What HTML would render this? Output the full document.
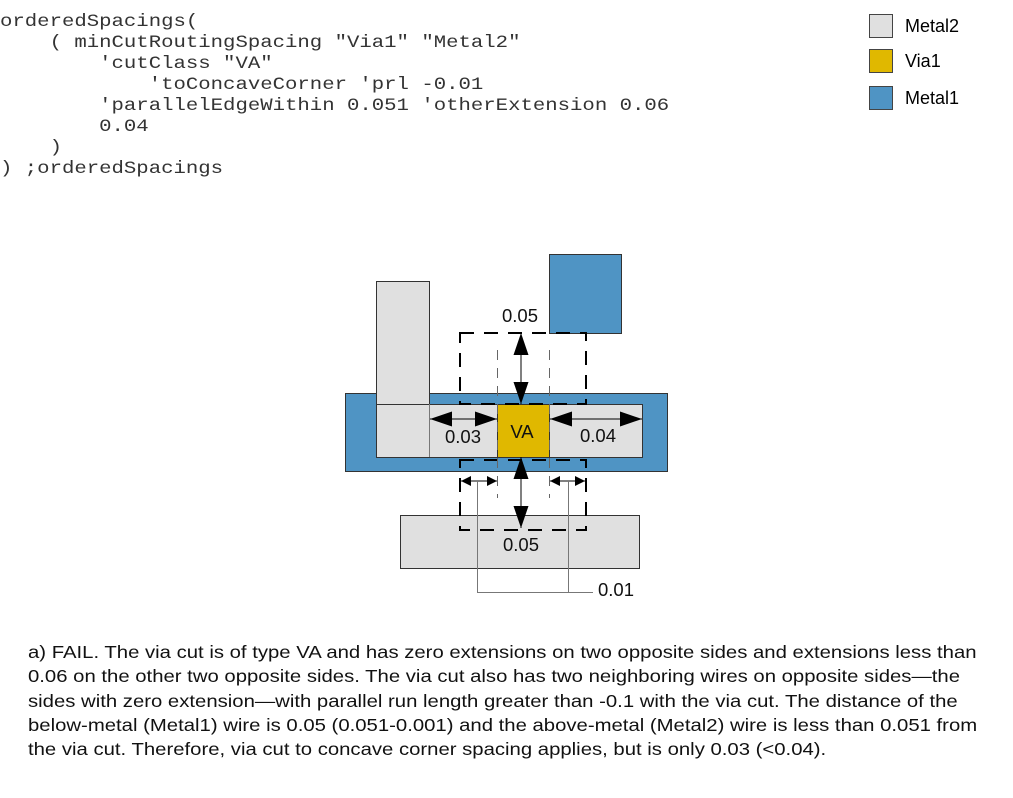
<!DOCTYPE html>
<html><head><style>
body{margin:0;width:1013px;height:798px;background:#fff;position:relative;overflow:hidden;font-family:"Liberation Sans",Arial,sans-serif;}
pre{position:absolute;left:0;top:12px;margin:0;font-family:"Liberation Mono",monospace;font-size:17.5px;line-height:21px;color:#333;transform:scaleX(1.18);transform-origin:0 0;}
.cap{position:absolute;left:28px;top:640px;font-size:17.3px;line-height:24.3px;color:#111;white-space:nowrap;transform:scaleX(1.175);transform-origin:0 0;}
</style></head><body>
<pre>orderedSpacings(
    ( minCutRoutingSpacing "Via1" "Metal2"
        'cutClass "VA"
            'toConcaveCorner 'prl -0.01
        'parallelEdgeWithin 0.051 'otherExtension 0.06
        0.04
    )
) ;orderedSpacings</pre>
<svg width="1013" height="798" style="position:absolute;left:0;top:0" font-family="Liberation Sans, Arial, sans-serif">
<defs>
<marker id="a" viewBox="0 0 10 10" refX="10" refY="5" markerWidth="10" markerHeight="10" orient="auto-start-reverse" markerUnits="userSpaceOnUse"><path d="M0,0L10,5L0,10z" fill="#000"/></marker>
<marker id="b" viewBox="0 0 10 10" refX="10" refY="5" markerWidth="22" markerHeight="15" orient="auto-start-reverse" markerUnits="userSpaceOnUse" preserveAspectRatio="none"><path d="M0,0L10,5L0,10z" fill="#000"/></marker>
</defs>
<rect x="869.5" y="14.5" width="23" height="23" fill="#e0e0e0" stroke="#444"/>
<rect x="869.5" y="49.5" width="23" height="23" fill="#e0b800" stroke="#444"/>
<rect x="869.5" y="86.5" width="23" height="23" fill="#4f94c4" stroke="#444"/>
<text x="905" y="32" font-size="18">Metal2</text>
<text x="905" y="67" font-size="18">Via1</text>
<text x="905" y="104" font-size="18">Metal1</text>
<rect x="549.5" y="254.5" width="72" height="79" fill="#4f94c4" stroke="#333"/>
<rect x="345.5" y="393.5" width="322" height="78" fill="#4f94c4" stroke="#333"/>
<rect x="376.5" y="281.5" width="53" height="176" fill="#e0e0e0" stroke="#333"/>
<rect x="376.5" y="404.5" width="266" height="53" fill="#e0e0e0" stroke="#333"/>
<line x1="429.5" y1="404" x2="429.5" y2="457" stroke="#777"/>
<rect x="497.5" y="404.5" width="52" height="53" fill="#e0b800" stroke="#333"/>
<rect x="400.5" y="515.5" width="239" height="53" fill="#e0e0e0" stroke="#333"/>
<g fill="none" stroke="#000" stroke-width="2" stroke-dasharray="14,10">
<rect x="460" y="333" width="126" height="71"/>
<rect x="460" y="460" width="126" height="70"/>
</g>
<g stroke="#666" stroke-width="1" stroke-dasharray="10,8">
<line x1="497.5" y1="350" x2="497.5" y2="498"/>
<line x1="549.5" y1="350" x2="549.5" y2="498"/>
</g>
<g stroke="#000" stroke-width="1">
<line x1="521" y1="333" x2="521" y2="404" marker-start="url(#b)" marker-end="url(#b)"/>
<line x1="521" y1="457" x2="521" y2="528" marker-start="url(#b)" marker-end="url(#b)"/>
<line x1="430" y1="419" x2="497" y2="419" marker-start="url(#b)" marker-end="url(#b)"/>
<line x1="550" y1="419" x2="642" y2="419" marker-start="url(#b)" marker-end="url(#b)"/>
<line x1="461" y1="481" x2="497" y2="481" marker-start="url(#a)" marker-end="url(#a)"/>
<line x1="550" y1="481" x2="585" y2="481" marker-start="url(#a)" marker-end="url(#a)"/>
</g>
<path d="M477.5,481V592.5H568.5V481M568.5,592.5H593" fill="none" stroke="#777"/>
<g font-size="18.5" text-anchor="middle" fill="#111">
<text x="520" y="322">0.05</text>
<text x="463" y="443">0.03</text>
<text x="522" y="438">VA</text>
<text x="598" y="442">0.04</text>
<text x="521" y="551">0.05</text>
<text x="616" y="596">0.01</text>
</g>
</svg>
<div class="cap">a) FAIL. The via cut is of type VA and has zero extensions on two opposite sides and extensions less than<br>0.06 on the other two opposite sides. The via cut also has two neighboring wires on opposite sides—the<br>sides with zero extension—with parallel run length greater than -0.1 with the via cut. The distance of the<br>below-metal (Metal1) wire is 0.05 (0.051-0.001) and the above-metal (Metal2) wire is less than 0.051 from<br>the via cut. Therefore, via cut to concave corner spacing applies, but is only 0.03 (&lt;0.04).</div>
</body></html>
